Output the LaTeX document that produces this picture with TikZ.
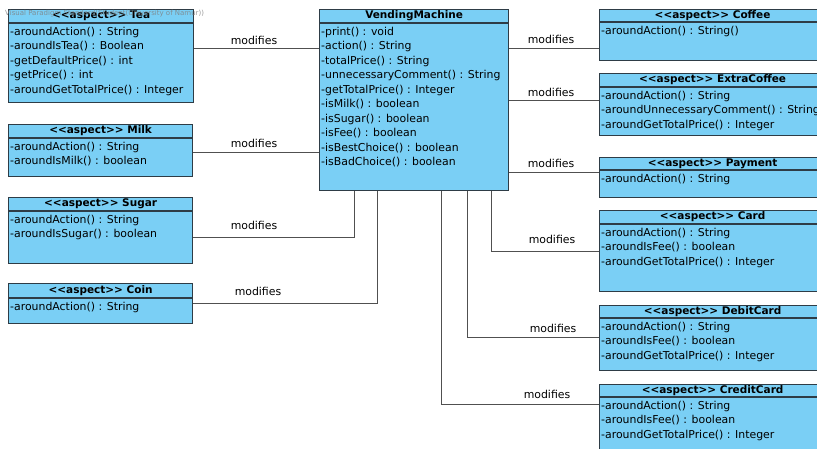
\documentclass[tikz,border=0pt]{standalone}
\usepackage{fontspec}
\newfontfamily\umlfont{DejaVu Sans}
\usetikzlibrary{calc}
\definecolor{umlfill}{HTML}{7ACFF5}
\definecolor{umlline}{HTML}{2E3C46}
\definecolor{connline}{HTML}{505050}
\tikzset{
 classbox/.style={draw=umlline, line width=1.2pt, fill=umlfill, anchor=north west, inner sep=0pt},
 hdr/.style={font=\umlfont\fontsize{10.5}{12}\selectfont\bfseries, inner sep=0pt, anchor=center},
 body/.style={font=\umlfont\fontsize{10.9}{14.5}\selectfont, align=left, inner sep=0pt, anchor=north west},
 conn/.style={draw=connline, line width=0.8pt},
 lbl/.style={font=\umlfont\fontsize{10.9}{12}\selectfont, inner sep=0pt},
 wm/.style={font=\umlfont\fontsize{7}{9}\selectfont, text=black!50, text opacity=0.8, inner sep=0pt},
}
\newcommand\umlclass[8]{%
 \node[classbox, minimum width=#4pt, minimum height=#5pt] (#1) at (#2,#3) {};
 \draw[draw=umlline, line width=1.1pt] ($(#1.north west)+(0,#6)$) -- ($(#1.north east)+(0,#6)$);
 \node[hdr] (#1-title) at ($(#1.north)+(0,#6/2)$) {#7};
 \node[body] (#1-body) at ($(#1.north west)+(2,#6+4)$) {#8};
}
\begin{document}
\begin{tikzpicture}[x=1pt,y=-1pt]
\useasboundingbox (0,0) rectangle (817,448);
\clip (0,0) rectangle (817,448);
\fill[white] (0,0) rectangle (817,448);

\umlclass{tea}{8}{9}{185}{93}{14}{<<aspect>> Tea}{-aroundAction() : String\\-aroundIsTea() : Boolean\\-getDefaultPrice() : int\\-getPrice() : int\\-aroundGetTotalPrice() : Integer}
\umlclass{milk}{8}{124}{184}{52}{14}{<<aspect>> Milk}{-aroundAction() : String\\-aroundIsMilk() : boolean}
\umlclass{sugar}{8}{197}{184}{66}{14}{<<aspect>> Sugar}{-aroundAction() : String\\-aroundIsSugar() : boolean}
\umlclass{coin}{8}{283}{184}{40}{15}{<<aspect>> Coin}{-aroundAction() : String}
\umlclass{vm}{319}{9}{189}{181}{14}{VendingMachine}{-print() : void\\-action() : String\\-totalPrice() : String\\-unnecessaryComment() : String\\-getTotalPrice() : Integer\\-isMilk() : boolean\\-isSugar() : boolean\\-isFee() : boolean\\-isBestChoice() : boolean\\-isBadChoice() : boolean}
\umlclass{coffee}{599}{9}{226}{51}{13}{<<aspect>> Coffee}{-aroundAction() : String()}
\umlclass{extra}{599}{73}{226}{62}{14}{<<aspect>> ExtraCoffee}{-aroundAction() : String\\-aroundUnnecessaryComment() : String\\-aroundGetTotalPrice() : Integer}
\umlclass{payment}{599}{157}{226}{40}{13}{<<aspect>> Payment}{-aroundAction() : String}
\umlclass{card}{599}{210}{226}{81}{14}{<<aspect>> Card}{-aroundAction() : String\\-aroundIsFee() : boolean\\-aroundGetTotalPrice() : Integer}
\umlclass{debit}{599}{305}{226}{65}{13}{<<aspect>> DebitCard}{-aroundAction() : String\\-aroundIsFee() : boolean\\-aroundGetTotalPrice() : Integer}
\umlclass{credit}{599}{384}{226}{70}{13}{<<aspect>> CreditCard}{-aroundAction() : String\\-aroundIsFee() : boolean\\-aroundGetTotalPrice() : Integer}

\node[wm, anchor=west] (wm) at (5,14) {Visual Paradigm Standard(Student(University of Namur))};

% connectors
\draw[conn] (tea.east |- 0,48) -- (vm.west |- 0,48);
\draw[conn] (milk.east |- 0,152) -- (vm.west |- 0,152);
\draw[conn] (sugar.east |- 0,237) -| (vm.south -| 354,0);
\draw[conn] (coin.east |- 0,303) -| (vm.south -| 377,0);
\draw[conn] (vm.east |- 0,48) -- (coffee.west |- 0,48);
\draw[conn] (vm.east |- 0,100) -- (extra.west |- 0,100);
\draw[conn] (vm.east |- 0,172) -- (payment.west |- 0,172);
\draw[conn] (vm.south -| 491,0) |- (card.west |- 0,251);
\draw[conn] (vm.south -| 467,0) |- (debit.west |- 0,337);
\draw[conn] (vm.south -| 441,0) |- (credit.west |- 0,404);

% labels
\node[lbl] (m1) at (254,40) {modifies};
\node[lbl] (m2) at (254,143) {modifies};
\node[lbl] (m3) at (254,225) {modifies};
\node[lbl] (m4) at (258,291) {modifies};
\node[lbl] (m5) at (551,39) {modifies};
\node[lbl] (m6) at (551,92) {modifies};
\node[lbl] (m7) at (551,163) {modifies};
\node[lbl] (m8) at (552,239) {modifies};
\node[lbl] (m9) at (553,328) {modifies};
\node[lbl] (m10) at (547,394) {modifies};
\end{tikzpicture}
\end{document}
